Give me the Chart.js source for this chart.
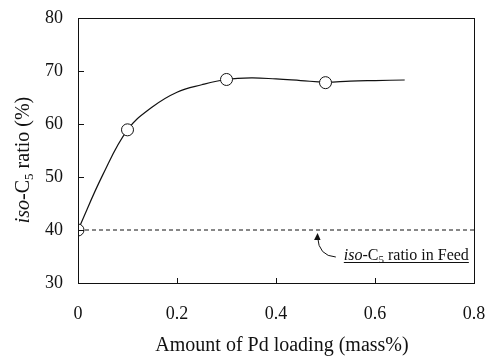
<!DOCTYPE html>
<html>
<head>
<meta charset="utf-8">
<script src="https://cdn.jsdelivr.net/npm/chart.js@4"></script>
<style>
  html, body { margin: 0; padding: 0; background: #fff; }
  #wrap { width: 487px; height: 356px; position: relative; }
</style>
</head>
<body>
<div id="wrap"><canvas id="pdChart"></canvas></div>
<script>
// Axis ticks
const xTicks = [0, 0.2, 0.4, 0.6, 0.8];
const yTicks = [30, 40, 50, 60, 70, 80];

// Measured points (open circles)
const loading = [0, 0.1, 0.3, 0.5];
const isoRatio = [40, 58.9, 68.4, 67.8];

// Fitted curve
const curveX = [0, 0.05, 0.1, 0.15, 0.2, 0.25, 0.3, 0.35, 0.4, 0.45, 0.5, 0.55, 0.6, 0.66];
const curveY = [40, 50.4, 58.9, 63.2, 66.0, 67.4, 68.4, 68.7, 68.5, 68.2, 67.9, 68.1, 68.2, 68.3];

// Feed level (dashed line)
const feedX = [0, 0.8];
const feedY = [40, 40];

const SERIF = '"Liberation Serif", "Times New Roman", serif';
const INK = '#111';

function toPoints(xs, ys) {
    return xs.map((x, i) => ({ x: x, y: ys[i] }));
}

// draws text pieces one after another, returns end x
function drawRuns(ctx, runs, x, y) {
    runs.forEach(r => {
        ctx.font = r.font;
        ctx.fillText(r.text, x, y + (r.dy || 0));
        x += ctx.measureText(r.text).width;
    });
    return x;
}

function runsWidth(ctx, runs) {
    let w = 0;
    runs.forEach(r => { ctx.font = r.font; w += ctx.measureText(r.text).width; });
    return w;
}

const framePlugin = {
    id: 'frame',
    afterDraw(chart) {
        const ctx = chart.ctx;
        const a = chart.chartArea;
        const xs = chart.scales.x, ys = chart.scales.y;
        ctx.save();
        ctx.strokeStyle = INK;
        ctx.lineWidth = 1;
        ctx.strokeRect(a.left + 0.5, a.top + 0.5, a.right - a.left, a.bottom - a.top);

        // inner ticks
        ctx.beginPath();
        xTicks.slice(1, -1).forEach(v => {
            const px = Math.round(xs.getPixelForValue(v)) + 0.5;
            ctx.moveTo(px, a.bottom);
            ctx.lineTo(px, a.bottom - 5);
        });
        yTicks.slice(1, -1).forEach(v => {
            const py = Math.round(ys.getPixelForValue(v)) + 0.5;
            ctx.moveTo(a.left, py);
            ctx.lineTo(a.left + 6, py);
        });
        ctx.stroke();

        ctx.fillStyle = INK;
        ctx.textBaseline = 'alphabetic';

        // x title
        ctx.font = '20px ' + SERIF;
        ctx.textAlign = 'center';
        ctx.fillText('Amount of Pd loading (mass%)', 282, 351);

        // y title, rotated
        ctx.textAlign = 'left';
        const yRuns = [
            { text: 'iso', font: 'italic 20px ' + SERIF },
            { text: '-C', font: '20px ' + SERIF },
            { text: '5', font: '13px ' + SERIF, dy: 4 },
            { text: ' ratio (%)', font: '20px ' + SERIF }
        ];
        ctx.save();
        ctx.translate(29, 160);
        ctx.rotate(-Math.PI / 2);
        drawRuns(ctx, yRuns, -runsWidth(ctx, yRuns) / 2, 0);
        ctx.restore();

        // annotation text, underlined
        const tx = xs.getPixelForValue(0.537);
        const ty = 260;
        const noteRuns = [
            { text: 'iso', font: 'italic 16px ' + SERIF },
            { text: '-C', font: '16px ' + SERIF },
            { text: '5', font: '11px ' + SERIF, dy: 3 },
            { text: ' ratio in Feed', font: '16px ' + SERIF }
        ];
        const tEnd = drawRuns(ctx, noteRuns, tx, ty);
        ctx.beginPath();
        ctx.moveTo(tx, ty + 2.5);
        ctx.lineTo(tEnd, ty + 2.5);
        ctx.stroke();

        // curved arrow pointing at the dashed line
        const ax = xs.getPixelForValue(0.484);
        const ay = ys.getPixelForValue(40) + 3;
        ctx.beginPath();
        ctx.moveTo(tx - 8, 257);
        ctx.quadraticCurveTo(ax + 1, 256, ax, ay + 4);
        ctx.stroke();
        ctx.beginPath();
        ctx.moveTo(ax, ay);
        ctx.lineTo(ax - 3.5, ay + 7);
        ctx.lineTo(ax + 3, ay + 7);
        ctx.closePath();
        ctx.fill();
        ctx.restore();
    }
};

document.addEventListener('DOMContentLoaded', function () {
    const ctx = document.getElementById('pdChart').getContext('2d');
    new Chart(ctx, {
        type: 'scatter',
        data: {
            datasets: [
                {
                    label: 'measured',
                    data: toPoints(loading, isoRatio),
                    pointRadius: 6,
                    pointBackgroundColor: '#fff',
                    pointBorderColor: INK,
                    pointBorderWidth: 1,
                    showLine: false
                },
                {
                    label: 'fit',
                    data: toPoints(curveX, curveY),
                    showLine: true,
                    tension: 0.4,
                    borderColor: INK,
                    borderWidth: 1.2,
                    pointRadius: 0
                },
                {
                    label: 'feed',
                    data: toPoints(feedX, feedY),
                    showLine: true,
                    borderColor: INK,
                    borderWidth: 1,
                    borderDash: [4, 3],
                    pointRadius: 0
                }
            ]
        },
        options: {
            responsive: true,
            maintainAspectRatio: false,
            animation: false,
            layout: { padding: { left: 0, right: 13, top: 18, bottom: 0 } },
            plugins: {
                legend: { display: false },
                tooltip: { enabled: false }
            },
            scales: {
                x: {
                    type: 'linear',
                    min: xTicks[0],
                    max: xTicks[xTicks.length - 1],
                    afterBuildTicks: s => { s.ticks = xTicks.map(v => ({ value: v })); },
                    afterFit: s => { s.height = 73; s.paddingLeft = 0; s.paddingRight = 0; },
                    grid: { display: false, drawTicks: false },
                    border: { display: false },
                    ticks: {
                        color: INK,
                        padding: 20,
                        maxRotation: 0,
                        font: { family: SERIF, size: 18 },
                        callback: v => String(v)
                    }
                },
                y: {
                    type: 'linear',
                    min: yTicks[0],
                    max: yTicks[yTicks.length - 1],
                    afterBuildTicks: s => { s.ticks = yTicks.map(v => ({ value: v })); },
                    afterFit: s => { s.width = 78; s.paddingTop = 0; s.paddingBottom = 0; },
                    grid: { display: false, drawTicks: false },
                    border: { display: false },
                    ticks: {
                        color: INK,
                        padding: 15,
                        font: { family: SERIF, size: 18 },
                        callback: v => String(v)
                    }
                }
            }
        },
        plugins: [framePlugin]
    });
});
</script>
</body>
</html>
